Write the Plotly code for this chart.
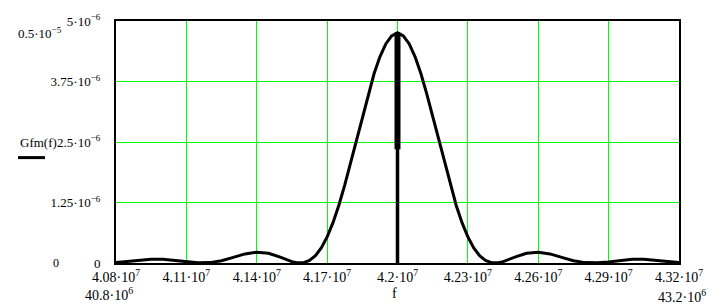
import plotly.graph_objects as go

# ---- data ----
freq_mhz = [40.80, 40.85, 40.90, 40.95, 41.00, 41.05, 41.10, 41.15, 41.20, 41.25,
            41.30, 41.35, 41.40, 41.45, 41.50, 41.55, 41.575, 41.60, 41.625, 41.65,
            41.675, 41.70, 41.725, 41.75, 41.775, 41.80, 41.825, 41.85, 41.875, 41.90,
            41.925, 41.95, 41.975, 42.00,
            42.025, 42.05, 42.075, 42.10, 42.125, 42.15, 42.175, 42.20, 42.225, 42.25,
            42.275, 42.30, 42.325, 42.35, 42.375, 42.40, 42.425, 42.45, 42.50, 42.55,
            42.60, 42.65, 42.70, 42.75, 42.80, 42.85, 42.90, 42.95, 43.00, 43.05,
            43.10, 43.15, 43.20]
gfm_micro = [0.010, 0.030, 0.055, 0.075, 0.077, 0.055, 0.022, 0.003, 0.008, 0.048,
             0.117, 0.188, 0.224, 0.200, 0.120, 0.028, 0.003, 0.007, 0.053, 0.150,
             0.311, 0.539, 0.834, 1.194, 1.609, 2.065, 2.546, 3.028, 3.490, 3.909,
             4.261, 4.527, 4.693, 4.760,
             4.693, 4.527, 4.261, 3.909, 3.490, 3.028, 2.546, 2.065, 1.609, 1.194,
             0.834, 0.539, 0.311, 0.150, 0.053, 0.007, 0.003, 0.028, 0.120, 0.200,
             0.224, 0.188, 0.117, 0.048, 0.008, 0.003, 0.022, 0.055, 0.077, 0.075,
             0.055, 0.030, 0.010]

spike_mhz = [42.00, 42.00]
spike_thin_micro = [0.0, 4.76]
spike_thick_micro = [2.35, 4.76]

x_tick_vals = [40.8e6, 41.1e6, 41.4e6, 41.7e6, 42.0e6, 42.3e6, 42.6e6, 42.9e6, 43.2e6]
x_tick_text = ["4.08·10<sup>7</sup>", "4.11·10<sup>7</sup>", "4.14·10<sup>7</sup>",
               "4.17·10<sup>7</sup>", "4.2·10<sup>7</sup>", "4.23·10<sup>7</sup>",
               "4.26·10<sup>7</sup>", "4.29·10<sup>7</sup>", "4.32·10<sup>7</sup>"]
y_tick_vals = [0, 1.25e-6, 2.5e-6, 3.75e-6, 5e-6]
y_tick_text = ["0", "1.25·10<sup>−6</sup>", "2.5·10<sup>−6</sup>",
               "3.75·10<sup>−6</sup>", "5·10<sup>−6</sup>"]

x_min, x_max = 40.8e6, 43.2e6
y_min, y_max = 0.0, 5e-6

FONT = "Liberation Serif, Times New Roman, serif"
FS = 14

fig = go.Figure()
fig.add_trace(go.Scatter(
    x=[v * 1e6 for v in freq_mhz], y=[v * 1e-6 for v in gfm_micro],
    mode="lines", line=dict(color="black", width=3), hoverinfo="skip"))
fig.add_trace(go.Scatter(
    x=[v * 1e6 for v in spike_mhz], y=[v * 1e-6 for v in spike_thin_micro],
    mode="lines", line=dict(color="black", width=3.5), hoverinfo="skip"))
fig.add_trace(go.Scatter(
    x=[v * 1e6 for v in spike_mhz], y=[v * 1e-6 for v in spike_thick_micro],
    mode="lines", line=dict(color="black", width=6), hoverinfo="skip"))

fig.update_layout(
    width=721, height=305,
    margin=dict(l=116, r=42, t=15, b=42, pad=0),
    paper_bgcolor="white", plot_bgcolor="white",
    showlegend=False,
    font=dict(family=FONT, size=FS, color="black"),
    xaxis=dict(range=[x_min, x_max], tickmode="array", tickvals=x_tick_vals,
               ticktext=x_tick_text, showgrid=True, gridcolor="#00ff00", gridwidth=1,
               zeroline=False, showline=True, linecolor="black", linewidth=2,
               mirror=True, ticks="", ticklabelstandoff=0,
               tickfont=dict(family=FONT, size=FS)),
    yaxis=dict(range=[y_min, y_max], tickmode="array", tickvals=y_tick_vals,
               ticktext=y_tick_text, showgrid=True, gridcolor="#00ff00", gridwidth=1,
               zeroline=False, showline=True, linecolor="black", linewidth=2,
               mirror=True, ticks="", ticklabelstandoff=11,
               tickfont=dict(family=FONT, size=13)),
)

annos = [
    dict(text="0.5·10<sup>−5</sup>", x=16, y=27, xanchor="left", size=13),
    dict(text="Gfm(f)", x=18, y=139, xanchor="left", size=13),
    dict(text="0", x=56, y=263, xanchor="center", size=12),
    dict(text="40.8·10<sup>6</sup>", x=83, y=295, xanchor="left"),
    dict(text="43.2·10<sup>6</sup>", x=656, y=297, xanchor="left"),
    dict(text="f", x=394, y=294, xanchor="center"),
]
for a in annos:
    fig.add_annotation(
        text=a["text"], xref="paper", yref="paper",
        x=(a["x"] - 116) / 563, y=(263 - a["y"]) / 248,
        xanchor=a["xanchor"], yanchor="middle", showarrow=False,
        font=dict(family=FONT, size=a.get("size", FS), color="black"))

# legend line sample under "Gfm(f)"
fig.add_shape(type="line", xref="paper", yref="paper",
              x0=(18 - 116) / 563, x1=(45 - 116) / 563,
              y0=(263 - 155) / 248, y1=(263 - 155) / 248,
              line=dict(color="black", width=3))

fig.write_html("out.html")
